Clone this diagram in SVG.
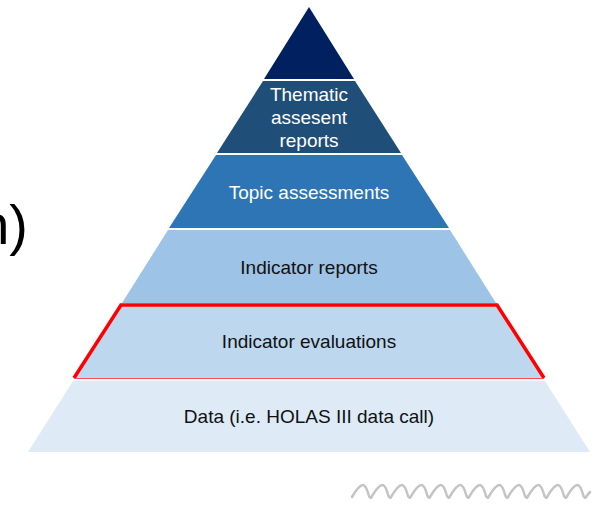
<svg xmlns="http://www.w3.org/2000/svg" width="602" height="505" viewBox="0 0 602 505">
<style>
.t{font-family:"Liberation Sans",Arial,sans-serif;font-size:19px;text-anchor:middle}
.w{fill:#ffffff}
.k{fill:#111111}
</style>
<rect width="602" height="505" fill="#ffffff"/>
<text x="28" y="244" font-family="Liberation Sans, Arial, sans-serif" font-size="56" text-anchor="end" fill="#000">n)</text>
<g id="level1"><polygon points="309,7 354,79 264,79" fill="#002060"/></g>
<g id="level2"><polygon points="263,81 355,81 401,153 217,153" fill="#1f4e79"/>
<text class="t w" x="309" y="101">Thematic</text>
<text class="t w" x="309" y="124">assesent</text>
<text class="t w" x="309" y="147">reports</text></g>
<g id="level3"><polygon points="216,155 402,155 449,228 169,228" fill="#2e75b6"/>
<text class="t w" x="309" y="199">Topic assessments</text></g>
<g id="level4"><polygon points="168,230 450,230 496,303 122,303" fill="#9dc3e6"/>
<text class="t k" x="309" y="274">Indicator reports</text></g>
<g id="level5"><polygon points="121,305 497,305 544,378 74,378" fill="#bdd7ee"/>
<polyline points="74,378 121,305 497,305 544,378" fill="none" stroke="#ff0000" stroke-width="3.5" stroke-linejoin="miter"/>
<line x1="74" y1="378.5" x2="544" y2="378.5" stroke="#ff5050" stroke-width="1"/>
<text class="t k" x="309" y="348">Indicator evaluations</text></g>
<g id="level6"><polygon points="73,381 545,381 590,452 28,452" fill="#deebf7"/>
<text class="t k" x="309" y="423">Data (i.e. HOLAS III data call)</text></g>
<path d="M352,497 q7,-12 11,-12 q3,0 6,11 q2,3 2.5,1 q7,-12 11,-12 q3,0 6,11 q2,3 2.5,1 q7,-12 11,-12 q3,0 6,11 q2,3 2.5,1 q7,-12 11,-12 q3,0 6,11 q2,3 2.5,1 q7,-12 11,-12 q3,0 6,11 q2,3 2.5,1 q7,-12 11,-12 q3,0 6,11 q2,3 2.5,1 q7,-12 11,-12 q3,0 6,11 q2,3 2.5,1 q7,-12 11,-12 q3,0 6,11 q2,3 2.5,1 q7,-12 11,-12 q3,0 6,11 q2,3 2.5,1 q7,-12 11,-12 q3,0 6,11 q2,3 2.5,1 q7,-12 11,-12 q3,0 6,11 q2,3 2.5,1 q7,-12 11,-12 q3,0 6,11 q2,3 2.5,1 q3,-4 4,-5" fill="none" stroke="#c4c4c4" stroke-width="2.5" stroke-linecap="round" stroke-linejoin="round"/>
</svg>
